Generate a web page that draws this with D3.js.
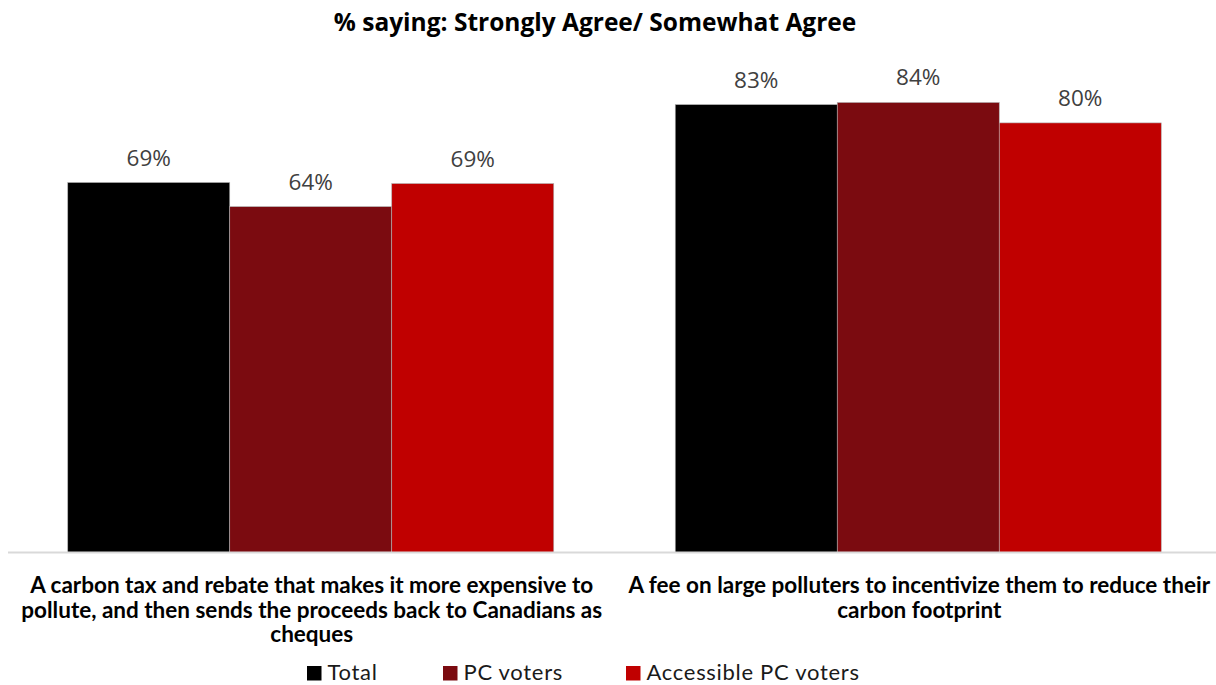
<!DOCTYPE html>
<html>
<head>
<meta charset="utf-8">
<script src="https://cdn.jsdelivr.net/npm/d3@7"></script>
<style>
  html, body { margin: 0; padding: 0; background: #fff; }
  svg { display: block; }
</style>
</head>
<body>
<svg id="chart" width="1216" height="685"></svg>
<script>
// ---- Data ----
const categories = [
  "A carbon tax and rebate that makes it more expensive to pollute, and then sends the proceeds back to Canadians as cheques",
  "A fee on large polluters to incentivize them to reduce their carbon footprint"
];
const categoryLines = [
  ["A carbon tax and rebate that makes it more expensive to",
   "pollute, and then sends the proceeds back to Canadians as",
   "cheques"],
  ["A fee on large polluters to incentivize them to reduce their",
   "carbon footprint"]
];
const seriesNames = ["Total", "PC voters", "Accessible PC voters"];
const totalValues = [68.9, 83.4];
const pcValues = [64.4, 83.8];
const accessibleValues = [68.7, 80.0];
const seriesColors = ["#000000", "#7b0b10", "#c00000"];
const titleText = "% saying: Strongly Agree/ Somewhat Agree";

const seriesValues = [totalValues, pcValues, accessibleValues];
const rows = categories.map((c, i) => ({
  cat: c, idx: i,
  values: seriesNames.map((s, j) => ({ series: s, j, value: seriesValues[j][i] }))
}));

// ---- Layout ----
const svg = d3.select("#chart");
const baseY = 552.5;

const x0 = d3.scaleBand().domain(categories).range([7, 1222])
  .paddingInner(0.2).paddingOuter(0.1);
const x1 = d3.scaleBand().domain(seriesNames).range([0, x0.bandwidth()]).padding(0);
const y = d3.scaleLinear().domain([0, 100]).range([baseY, 15.5]);
const color = d3.scaleOrdinal().domain(seriesNames).range(seriesColors);

// Title
svg.append("text")
  .attr("x", 595).attr("y", 31)
  .attr("text-anchor", "middle")
  .style("font-family", "'Open Sans', Lato, sans-serif")
  .style("font-weight", "bold")
  .style("font-size", "24.5px")
  .style("fill", "#000")
  .text(titleText);

// Bars
const groups = svg.append("g").selectAll("g").data(rows).join("g")
  .attr("transform", d => `translate(${x0(d.cat)},0)`);

groups.selectAll("rect").data(d => d.values).join("rect")
  .attr("x", d => x1(d.series))
  .attr("width", x1.bandwidth())
  .attr("y", d => y(d.value))
  .attr("height", d => baseY - y(d.value))
  .attr("fill", d => color(d.series))
  .attr("stroke", "#b0b0b0")
  .attr("stroke-width", 0.6);

// Data labels
groups.selectAll("text.val").data(d => d.values).join("text")
  .attr("class", "val")
  .attr("x", d => x1(d.series) + x1.bandwidth() / 2)
  .attr("y", d => y(d.value) - 17)
  .attr("text-anchor", "middle")
  .style("font-family", "'Open Sans', sans-serif")
  .style("font-size", "22.5px")
  .style("fill", "#404040")
  .text(d => Math.round(d.value) + "%");

// Axis baseline
const xAxis = d3.axisBottom(x0).tickSize(0).tickFormat("");
const axisG = svg.append("g").attr("transform", `translate(0,${baseY})`).call(xAxis);
axisG.select(".domain").attr("d", "M8,0H1216").attr("stroke", "#d9d9d9").attr("stroke-width", 2);

// Category labels
rows.forEach((r, i) => {
  const t = svg.append("text")
    .attr("text-anchor", "middle")
    .style("font-family", "Lato, sans-serif")
    .style("font-weight", "bold")
    .style("font-size", "22.5px")
    .style("fill", "#000");
  categoryLines[i].forEach((line, k) => {
    t.append("tspan")
      .attr("x", x0(r.cat) + x0.bandwidth() / 2 + 1)
      .attr("y", 593 + k * 24.5)
      .text(line);
  });
});

// Legend
const legendX = [307, 443, 626];
const lg = svg.append("g").selectAll("g").data(seriesNames).join("g")
  .attr("transform", (d, i) => `translate(${legendX[i]},666)`);
lg.append("rect").attr("width", 14.5).attr("height", 14.5)
  .attr("fill", d => color(d));
lg.append("text").attr("x", 20.5).attr("y", 13.5)
  .style("font-family", "Lato, sans-serif")
  .style("font-size", "22px")
  .style("letter-spacing", "0.7px")
  .style("fill", "#1a1a1a")
  .text(d => d);
</script>
</body>
</html>
